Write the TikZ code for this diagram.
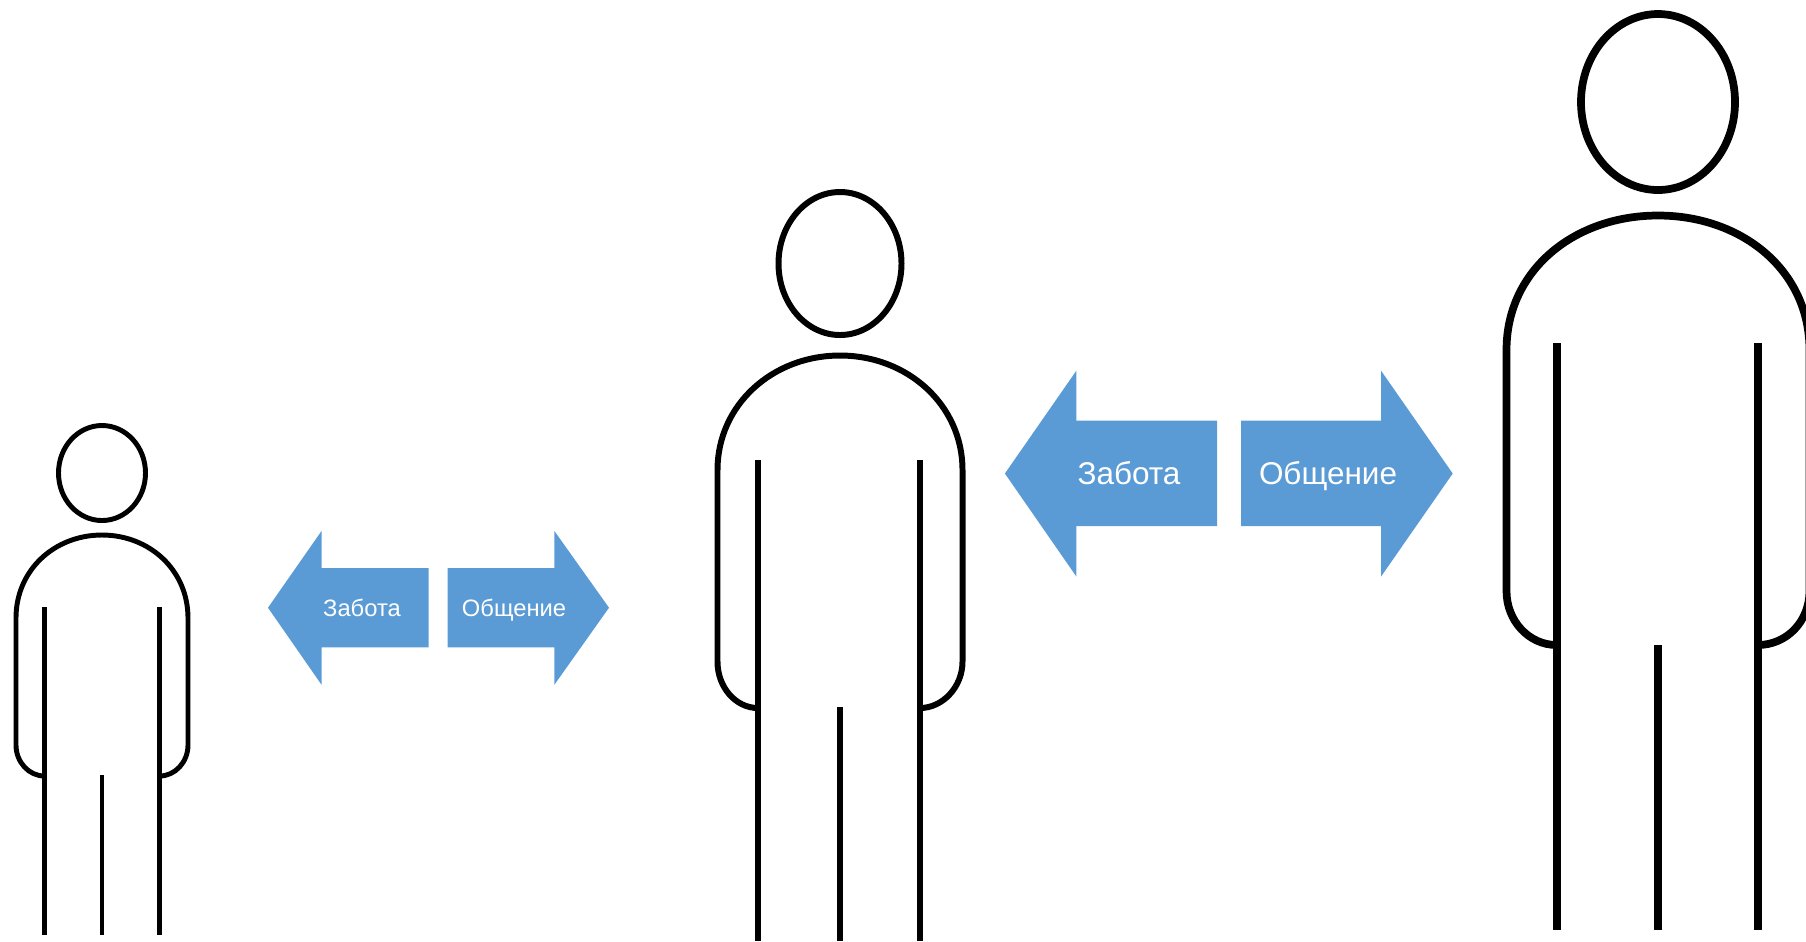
\documentclass[tikz,border=0pt]{standalone}
\usepackage{fontspec}
\setmainfont{Liberation Sans}
\definecolor{arrowblue}{HTML}{5B9BD5}
\tikzset{
  smallman/.style={draw=black,line width=1.4pt,line cap=butt},
  midman/.style={draw=black,line width=1.7pt,line cap=butt},
  bigman/.style={draw=black,line width=2.2pt,line cap=butt},
  blockarrow/.style={fill=arrowblue,draw=none},
  smalllabel/.style={text=white,inner sep=0pt,anchor=base,font=\fontsize{6.75pt}{8pt}\selectfont},
  biglabel/.style={text=white,inner sep=0pt,anchor=base,font=\fontsize{8.95pt}{10pt}\selectfont}
}
\begin{document}
\begin{tikzpicture}[x=0.01cm,y=-0.01cm]
\useasboundingbox (0,0) rectangle (1806,941);
\clip (0,0) rectangle (1806,941);
% person 1
\draw[smallman] (102,473) ellipse[x radius=43.5,y radius=47.5];
\draw[smallman] (44.5,776) .. controls (28.8,776) and (16,762) .. (16,745) -- (16,618)
  .. controls (16,570) and (54.5,535) .. (102,535)
  .. controls (149.5,535) and (188,570) .. (188,618) -- (188,745)
  .. controls (188,762) and (175.2,776) .. (159.5,776);
\draw[smallman] (44.5,607) -- (44.5,935);
\draw[smallman] (159.5,607) -- (159.5,935);
\draw[smallman] (102,775) -- (102,935);
% arrows 1
\fill[blockarrow] (268,607.7) -- (321.5,531) -- (321.5,568) -- (428.6,568) -- (428.6,647.4) -- (321.5,647.4) -- (321.5,684.7) -- cycle;
\fill[blockarrow] (609,607.7) -- (554.4,531) -- (554.4,568) -- (447.6,568) -- (447.6,647.4) -- (554.4,647.4) -- (554.4,684.7) -- cycle;
\node[smalllabel] (care1) at (362,616) {Забота};
\node[smalllabel] (talk1) at (514,616) {Общение};
% person 2
\draw[midman] (840,263.5) ellipse[x radius=61.5,y radius=71.5];
\draw[midman] (758,708) .. controls (735.6,708) and (717.5,687.2) .. (717.5,661.6) -- (717.5,470)
  .. controls (717.5,405) and (772.3,355.5) .. (840,355.5)
  .. controls (907.7,355.5) and (962.5,405) .. (962.5,470) -- (962.5,661.6)
  .. controls (962.5,687.2) and (942.4,708) .. (920,708);
\draw[midman] (758,460) -- (758,941);
\draw[midman] (920,460) -- (920,941);
\draw[midman] (840,707) -- (840,941);
% arrows 2
\fill[blockarrow] (1004.9,473.5) -- (1076.4,370.6) -- (1076.4,420.7) -- (1217,420.7) -- (1217,526) -- (1076.4,526) -- (1076.4,576.6) -- cycle;
\fill[blockarrow] (1452.7,473.5) -- (1381,370.6) -- (1381,420.7) -- (1241,420.7) -- (1241,526) -- (1381,526) -- (1381,576.6) -- cycle;
\node[biglabel] (care2) at (1129,484.5) {Забота};
\node[biglabel] (talk2) at (1328,484.5) {Общение};
% person 3
\draw[bigman] (1658,102) ellipse[x radius=77,y radius=88];
\draw[bigman] (1556.7,645) .. controls (1529,645) and (1506.5,621) .. (1506.5,591) -- (1506.5,350)
  .. controls (1506.5,270) and (1574.3,215.5) .. (1658,215.5)
  .. controls (1741.7,215.5) and (1809.5,270) .. (1809.5,350) -- (1809.5,591)
  .. controls (1809.5,621) and (1787,645) .. (1757.7,645);
\draw[bigman] (1556.7,343) -- (1556.7,930);
\draw[bigman] (1757.7,343) -- (1757.7,930);
\draw[bigman] (1658,645) -- (1658,930);
\end{tikzpicture}
\end{document}
